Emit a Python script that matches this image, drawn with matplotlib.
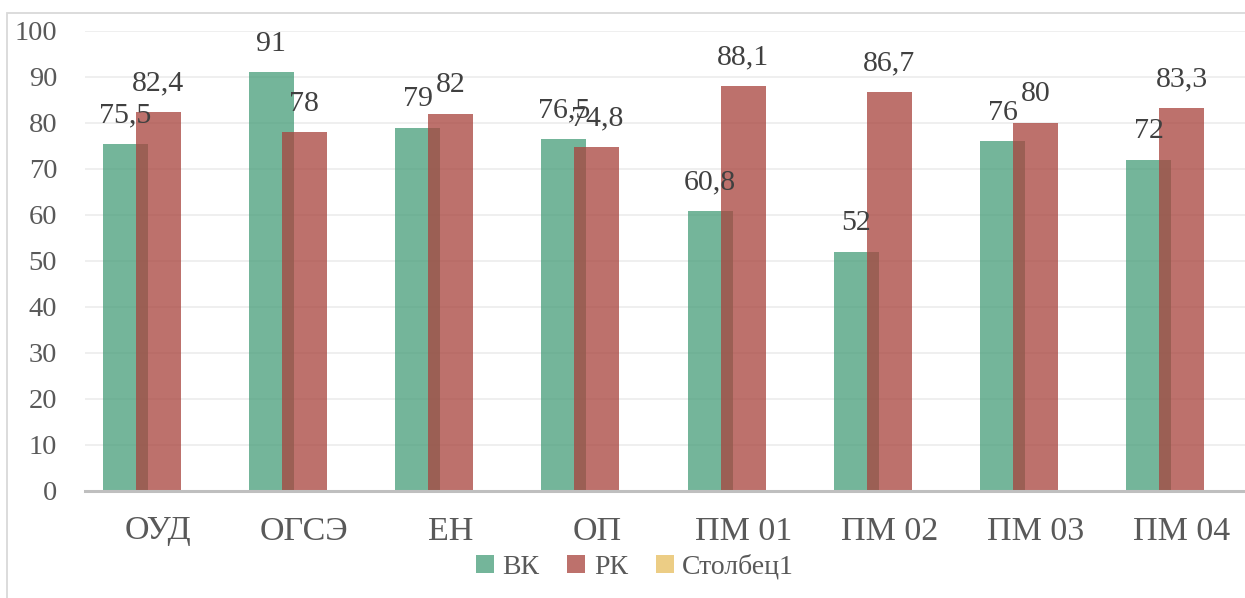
import matplotlib
matplotlib.use("Agg")
import matplotlib.pyplot as plt
import numpy as np
from matplotlib.patches import Rectangle, Patch

categories = ["ОУД", "ОГСЭ", "ЕН", "ОП", "ПМ 01", "ПМ 02", "ПМ 03", "ПМ 04"]
vk = [75.5, 91, 79, 76.5, 60.8, 52, 76, 72]
rk = [82.4, 78, 82, 74.8, 88.1, 86.7, 80, 83.3]
stolbec1 = [0, 0, 0, 0, 0, 0, 0, 0]
series_names = ["ВК", "РК", "Столбец1"]
yticks = [0, 10, 20, 30, 40, 50, 60, 70, 80, 90, 100]

def fmt(v):
    s = ("%.1f" % v).rstrip("0").rstrip(".")
    return s.replace(".", ",")

plt.rcParams['font.family'] = ['Liberation Serif', 'DejaVu Serif']

W, H = 1245, 598
fig = plt.figure(figsize=(W / 100, H / 100), dpi=100)
ax = fig.add_axes([85 / W, (H - 491) / H, (1255 - 85) / W, (491 - 31) / H])

alpha = 0.76
green = (72 / 255, 158 / 255, 122 / 255)
red = (168 / 255, 68 / 255, 62 / 255)
yellow = (230 / 255, 190 / 255, 95 / 255)

x = np.arange(len(categories))
bw = 45 / 146.3
step = 33 / 146.3

ax.bar(x - step, vk, width=bw, color=green, alpha=alpha, linewidth=0, zorder=2)
ax.bar(x, rk, width=bw, color=red, alpha=alpha, linewidth=0, zorder=3)
ax.bar(x + step, stolbec1, width=bw, color=yellow, alpha=alpha, linewidth=0, zorder=4)

lab_col = "#404040"
for xi, v in zip(x - step, vk):
    ax.annotate(fmt(v), (xi, v), xytext=(0, 15.5), textcoords="offset points",
                ha="center", va="baseline", fontsize=21.5, color=lab_col, zorder=6)
for xi, v in zip(x, rk):
    ax.annotate(fmt(v), (xi, v), xytext=(0, 15.5), textcoords="offset points",
                ha="center", va="baseline", fontsize=21.5, color=lab_col, zorder=6)

ax.set_xlim(-0.5, len(categories) - 0.5)
ax.set_ylim(0, 100)
ax.set_yticks(yticks)
ax.set_yticklabels([str(t) for t in yticks])
ax.set_xticks(x)
ax.set_xticklabels(categories)
ax.tick_params(axis="y", length=0, pad=20, labelsize=20.5, labelcolor="#595959")
ax.tick_params(axis="x", length=0, pad=18, labelsize=24.5, labelcolor="#595959")

for t in yticks[1:]:
    ax.axhline(t, color="#EEEEEE", lw=1.3, zorder=1)
for s in ["top", "right", "left"]:
    ax.spines[s].set_visible(False)
ax.spines["bottom"].set_color("#BFBFBF")
ax.spines["bottom"].set_linewidth(2.2)
ax.spines["bottom"].set_zorder(5)

handles = [Patch(facecolor=green, alpha=alpha, linewidth=0),
           Patch(facecolor=red, alpha=alpha, linewidth=0),
           Patch(facecolor=yellow, alpha=alpha, linewidth=0)]
leg = fig.legend(handles, series_names, loc="center", bbox_to_anchor=(635 / W, 1 - 567 / H),
                 ncol=3, frameon=False, fontsize=20, handlelength=0.65, handleheight=0.65,
                 handletextpad=0.3, columnspacing=1.0, labelcolor="#595959")

fig.patches.append(Rectangle((7 / W, -0.1), 1.2, 1 - 13 / H + 0.1, transform=fig.transFigure,
                             fill=False, edgecolor="#D9D9D9", lw=1.3))

fig.savefig("out.png", dpi=100)
